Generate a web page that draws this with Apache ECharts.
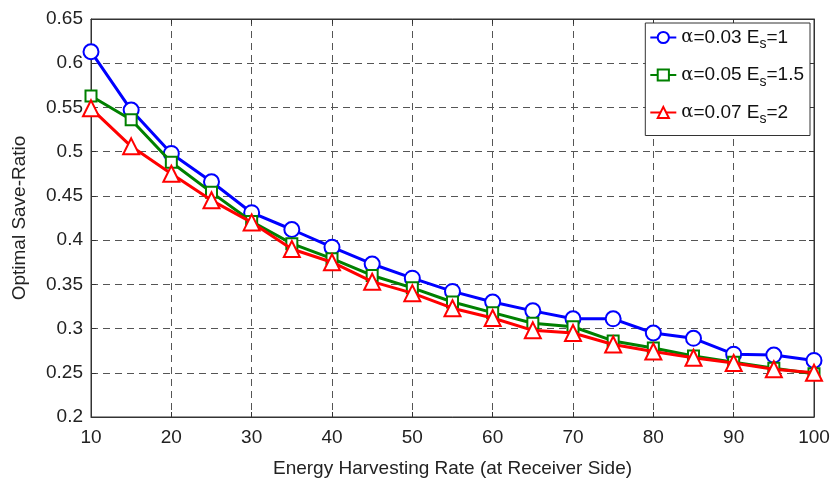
<!DOCTYPE html>
<html><head><meta charset="utf-8">
<script src="https://cdn.jsdelivr.net/npm/echarts@6/dist/echarts.min.js"></script>
<style>html,body{margin:0;padding:0;background:#fff}#c{width:832px;height:479px}</style>
</head><body><div id="c"></div>
<script>
const xValues = [10,15,20,25,30,35,40,45,50,55,60,65,70,75,80,85,90,95,100];
const seriesA = [0.613,0.547,0.498,0.466,0.431,0.412,0.392,0.373,0.357,0.342,0.330,0.320,0.311,0.311,0.295,0.289,0.271,0.270,0.264];
const seriesB = [0.563,0.536,0.488,0.454,0.421,0.396,0.379,0.360,0.346,0.330,0.318,0.306,0.302,0.286,0.278,0.269,0.262,0.255,0.249];
const seriesC = [0.549,0.506,0.475,0.445,0.420,0.390,0.375,0.353,0.340,0.323,0.312,0.298,0.295,0.282,0.274,0.267,0.261,0.254,0.250];
const seriesNames = ['α=0.03 E_s=1','α=0.05 E_s=1.5','α=0.07 E_s=2'];
const legendRich = {
  0:'{a|α}{b|=0.03 E}{s|s}{b|=1}',
  1:'{a|α}{b|=0.05 E}{s|s}{b|=1.5}',
  2:'{a|α}{b|=0.07 E}{s|s}{b|=2}'
};
const colors = ['#0000ff','#008000','#ff0000'];
const symbols = ['emptyCircle','emptyRect','emptyTriangle'];
const sizes = [15,11,16];
const dataSets = [seriesA, seriesB, seriesC];

const chart = echarts.init(document.getElementById('c'));
const font = 'Liberation Sans, Arial, sans-serif';
const commonAxis = {
  axisLine:{show:true,onZero:false,lineStyle:{color:'#333',width:1}},
  axisTick:{show:true,inside:true,length:5,lineStyle:{color:'#333'}},
};
chart.setOption({
  animation:false,
  backgroundColor:'#fff',
  grid:{left:91,right:18,top:19,bottom:62,show:true,borderColor:'#333',borderWidth:1,containLabel:false,outerBoundsMode:'none'},
  legend:{
    right:22,top:23,orient:'vertical',
    backgroundColor:'#fff',borderColor:'#333',borderWidth:1,
    padding:[5,6,9,4],itemGap:14,itemWidth:26,itemHeight:14,
    formatter:function(n){return legendRich[seriesNames.indexOf(n)];},
    textStyle:{rich:{
      a:{fontFamily:'DejaVu Serif, serif',fontSize:18,color:'#111'},
      b:{fontFamily:font,fontSize:19,color:'#111'},
      s:{fontFamily:font,fontSize:14,color:'#111',padding:[14,0,0,0]}
    }}
  },
  xAxis:[{
    type:'value',min:10,max:100,interval:10,
    ...commonAxis,
    axisLabel:{fontFamily:font,fontSize:19,color:'#222',margin:11},
    splitLine:{show:true,lineStyle:{color:'#555',type:[7,5],width:1}},
    name:'Energy Harvesting Rate (at Receiver Side)',nameLocation:'middle',nameGap:42,
    nameTextStyle:{fontFamily:font,fontSize:19,color:'#222'}
  },{
    type:'value',min:10,max:100,interval:10,position:'top',
    ...commonAxis,axisLabel:{show:false},splitLine:{show:false}
  }],
  yAxis:[{
    type:'value',min:0.2,max:0.65,interval:0.05,
    ...commonAxis,
    axisLabel:{fontFamily:font,fontSize:19,color:'#222',margin:8,formatter:v=>String(+v.toFixed(2))},
    splitLine:{show:true,lineStyle:{color:'#555',type:[7,5],width:1}},
    name:'Optimal Save-Ratio',nameLocation:'middle',nameGap:62,
    nameTextStyle:{fontFamily:font,fontSize:19,color:'#222'}
  },{
    type:'value',min:0.2,max:0.65,interval:0.05,position:'right',
    ...commonAxis,axisLabel:{show:false},splitLine:{show:false}
  }],
  series:dataSets.map((d,i)=>({
    name:seriesNames[i],type:'line',
    data:xValues.map((x,j)=>[x,d[j]]),
    symbol:symbols[i],symbolSize:sizes[i],
    lineStyle:{color:colors[i],width:3},
    itemStyle:{color:colors[i],borderColor:colors[i],borderWidth:3},
    z:2+i
  }))
});
</script></body></html>
